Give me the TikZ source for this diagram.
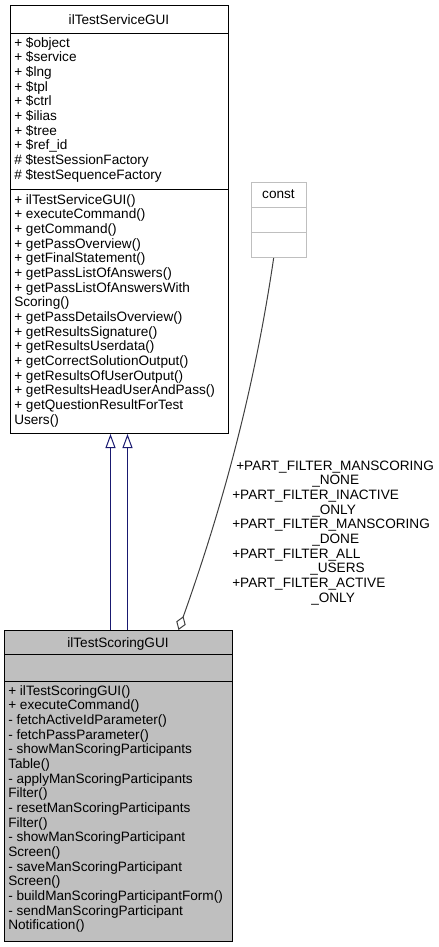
\documentclass[tikz,border=0pt]{standalone}
\usepackage{fontspec}
\setmainfont{Liberation Sans}
\usepackage{tikz}
\usetikzlibrary{arrows.meta, positioning, calc}

\definecolor{edgegray}{HTML}{404040}
\definecolor{boxgray}{HTML}{BFBFBF}
\definecolor{inhblue}{HTML}{191970}

\begin{document}
\begin{tikzpicture}[x=0.75pt, y=-0.75pt,
    classbox/.style={draw=black, line width=0.75pt, inner sep=0, anchor=north west},
    member/.style={anchor=base west, inner sep=0, font=\fontsize{10.2}{11}\selectfont},
    title/.style={anchor=base, inner sep=0, font=\fontsize{10.2}{11}\selectfont},
    inherit/.style={draw=inhblue, line width=0.75pt, -{Triangle[open, length=10.5pt, width=7.5pt, fill=white]}},
    compose/.style={draw=edgegray, line width=0.75pt, -{Diamond[open, length=11pt, width=7.5pt, fill=white]}},
    flag/.style={anchor=base west, inner sep=0, font=\fontsize{10.2}{11}\selectfont}
  ]
  \useasboundingbox (0,0) rectangle (439,947);

  % --- ilTestServiceGUI ---
  \node[classbox, minimum width=218*0.75pt, minimum height=428*0.75pt] (svc) at (10,5) {};
  \draw[line width=0.75pt] (10,33) -- (228,33);
  \draw[line width=0.75pt] (10,189) -- (228,189);
  \node[title] (svcname) at (119,24) {ilTestServiceGUI};
  \foreach \t [count=\i] in {+ \$object, + \$service, + \$lng, + \$tpl, + \$ctrl, + \$ilias,
      + \$tree, + \$ref\_id, \# \$testSessionFactory, \# \$testSequenceFactory}
    \node[member] (svca\i) at (14, 47+14.67*\i-14.67) {\t};
  \foreach \t [count=\i] in {+ ilTestServiceGUI(), + executeCommand(), + getCommand(),
      + getPassOverview(), + getFinalStatement(), + getPassListOfAnswers(),
      + getPassListOfAnswersWith, Scoring(), + getPassDetailsOverview(),
      + getResultsSignature(), + getResultsUserdata(), + getCorrectSolutionOutput(),
      + getResultsOfUserOutput(), + getResultsHeadUserAndPass(),
      + getQuestionResultForTest, Users()}
    \node[member] (svcm\i) at (14, 204+14.67*\i-14.67) {\t};

  % --- const ---
  \node[classbox, draw=boxgray, minimum width=55*0.75pt, minimum height=75*0.75pt] (const) at (251,182) {};
  \draw[boxgray, line width=0.75pt] (251,207) -- (306,207);
  \draw[boxgray, line width=0.75pt] (251,232) -- (306,232);
  \node[title] (constname) at (278.5,198) {const};

  % --- ilTestScoringGUI ---
  \node[classbox, fill=boxgray, minimum width=228*0.75pt, minimum height=311*0.75pt] (scoring) at (4,630) {};
  \draw[line width=0.75pt] (4,654) -- (232,654);
  \draw[line width=0.75pt] (4,681) -- (232,681);
  \node[title] (scoringname) at (118,647) {ilTestScoringGUI};
  \foreach \t [count=\i] in {+ ilTestScoringGUI(), + executeCommand(), - fetchActiveIdParameter(),
      - fetchPassParameter(), - showManScoringParticipants, Table(),
      - applyManScoringParticipants, Filter(), - resetManScoringParticipants, Filter(),
      - showManScoringParticipant, Screen(), - saveManScoringParticipant, Screen(),
      - buildManScoringParticipantForm(), - sendManScoringParticipant, Notification()}
    \node[member] (scm\i) at (8, 695+14.67*\i-14.67) {\t};

  % --- inheritance ---
  \draw[inherit] ([xshift=-6pt]scoring.north) -- ([xshift=-6pt]scoring.north |- svc.south);
  \draw[inherit] ([xshift=6.75pt]scoring.north) -- ([xshift=6.75pt]scoring.north |- svc.south);

  % --- composition with const ---
  \draw[compose] ([xshift=-4pt]const.south) .. controls (256,378) and (227,494) .. ([xshift=45pt]scoring.north);

  % --- edge labels ---
  \node[flag] (f1) at (236,470) {+PART\_FILTER\_MANSCORING};
  \node[flag] (f1b) at (312,484.67) {\_NONE};
  \node[flag] (f2) at (232,499.33) {+PART\_FILTER\_INACTIVE};
  \node[flag] (f2b) at (312,514) {\_ONLY};
  \node[flag] (f3) at (232,528.67) {+PART\_FILTER\_MANSCORING};
  \node[flag] (f3b) at (312,543.33) {\_DONE};
  \node[flag] (f4) at (232,558) {+PART\_FILTER\_ALL};
  \node[flag] (f4b) at (310,572.67) {\_USERS};
  \node[flag] (f5) at (232,587.33) {+PART\_FILTER\_ACTIVE};
  \node[flag] (f5b) at (311,602) {\_ONLY};
\end{tikzpicture}
\end{document}
